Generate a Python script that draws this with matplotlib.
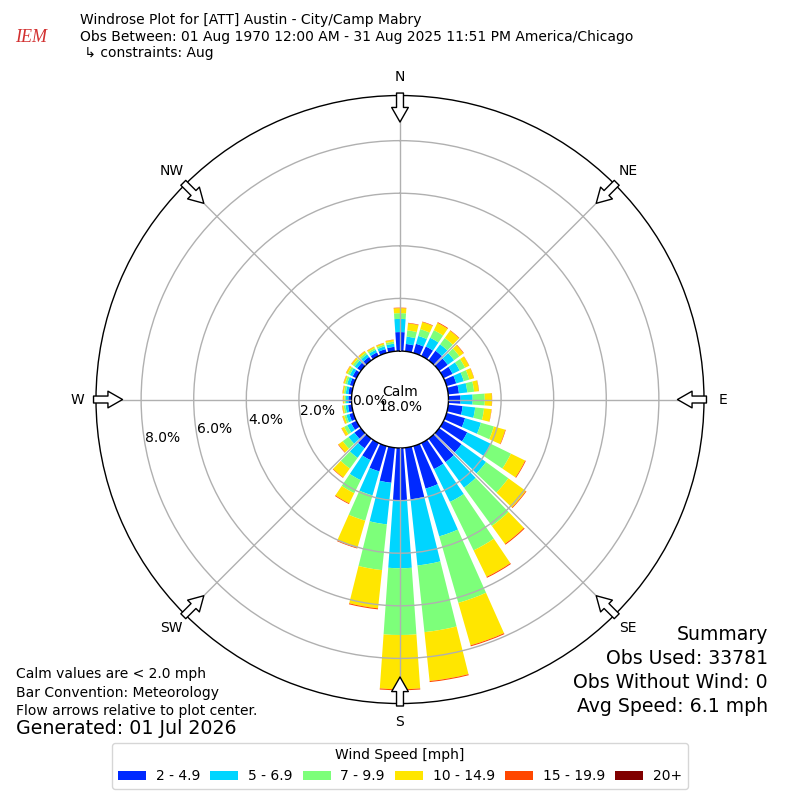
import numpy as np
import matplotlib
matplotlib.use("Agg")
import matplotlib.pyplot as plt
from matplotlib.transforms import offset_copy

# ---------------- data ----------------
directions = np.arange(0, 360, 10)  # degrees, meteorological
speed_labels = ["2 - 4.9", "5 - 6.9", "7 - 9.9", "10 - 14.9", "15 - 19.9", "20+"]

# percent frequency per direction bin for each speed class
spd_2_5 = [0.72, 0.28, 0.36, 0.40, 0.45, 0.40, 0.38, 0.38, 0.41,
           0.46, 0.55, 0.73, 1.00, 1.05, 1.10, 1.10, 1.68, 1.97,
           1.98, 1.34, 1.00, 0.72, 0.45, 0.30, 0.22, 0.16, 0.14,
           0.12, 0.13, 0.14, 0.16, 0.17, 0.16, 0.15, 0.15, 0.17]
spd_5_7 = [0.50, 0.28, 0.31, 0.37, 0.30, 0.30, 0.30, 0.30, 0.32,
           0.46, 0.48, 0.63, 0.99, 1.15, 1.20, 1.39, 1.89, 2.53,
           2.59, 1.59, 0.95, 0.85, 0.45, 0.28, 0.17, 0.12, 0.10,
           0.09, 0.10, 0.11, 0.12, 0.12, 0.12, 0.11, 0.11, 0.12]
spd_7_10 = [0.22, 0.24, 0.27, 0.32, 0.30, 0.25, 0.23, 0.22, 0.26,
            0.46, 0.34, 0.51, 0.86, 1.05, 1.80, 2.05, 2.63, 2.55,
            2.54, 1.75, 1.00, 0.55, 0.50, 0.27, 0.13, 0.08, 0.07,
            0.06, 0.07, 0.08, 0.09, 0.09, 0.08, 0.07, 0.07, 0.08]
spd_10_15 = [0.19, 0.27, 0.28, 0.31, 0.34, 0.19, 0.17, 0.18, 0.18,
             0.27, 0.28, 0.45, 0.60, 0.82, 0.84, 1.12, 1.68, 1.87,
             2.06, 1.46, 1.07, 0.43, 0.42, 0.20, 0.11, 0.07, 0.05,
             0.05, 0.05, 0.06, 0.07, 0.07, 0.07, 0.06, 0.06, 0.07]
spd_15_20 = [0.02, 0.02, 0.02, 0.03, 0.02, 0.02, 0.01, 0.01, 0.01,
             0.01, 0.01, 0.02, 0.03, 0.03, 0.04, 0.04, 0.04, 0.04,
             0.04, 0.04, 0.03, 0.03, 0.02, 0.02, 0.01, 0.01, 0.01,
             0.01, 0.01, 0.01, 0.01, 0.01, 0.01, 0.01, 0.01, 0.01]
spd_20p = [0.0] * 36

calm_pct = 18.0
ring_values = [0, 2, 4, 6, 8]
compass_labels = ["N", "NE", "E", "SE", "S", "SW", "W", "NW"]
compass_deg = [0, 45, 90, 135, 180, 225, 270, 315]

title_lines = [
    "Windrose Plot for [ATT] Austin - City/Camp Mabry",
    "Obs Between: 01 Aug 1970 12:00 AM - 31 Aug 2025 11:51 PM America/Chicago",
    " \u21b3 constraints: Aug",
]
notes = ["Calm values are < 2.0 mph", "Bar Convention: Meteorology",
         "Flow arrows relative to plot center."]
generated = "Generated: 01 Jul 2026"
summary = ["Summary", "Obs Used: 33781", "Obs Without Wind: 0",
           "Avg Speed: 6.1 mph"]

# ---------------- figure ----------------
fig = plt.figure(figsize=(8, 8), dpi=100)
ax = fig.add_axes([0.12, 0.1206, 0.76, 0.76], projection="polar")
ax.set_theta_zero_location("N")
ax.set_theta_direction(-1)
RORIG = -1.844
RMAX = 9.716
ax.set_rorigin(RORIG)
ax.set_ylim(0, RMAX)

colors = plt.cm.jet(np.linspace(0, 1, 7))[1:]
series = [spd_2_5, spd_5_7, spd_7_10, spd_10_15, spd_15_20, spd_20p]
theta = np.radians(directions)
width = np.radians(8.0)
bottom = np.zeros(len(directions))
handles = []
for vals, col, lab in zip(series, colors, speed_labels):
    vals = np.asarray(vals, dtype=float)
    b = ax.bar(theta, vals, width=width, bottom=bottom, color=col,
               edgecolor="none", linewidth=0, label=lab, zorder=1)
    handles.append(b)
    bottom = bottom + vals

# grid
ax.set_axisbelow(False)
ax.set_xticks(np.radians(compass_deg))
ax.set_xticklabels([])
ax.set_yticks(ring_values[1:])
ax.set_yticklabels([])
ax.grid(True, color="#b0b0b0", linewidth=1.0)
ax.tick_params(axis="both", length=0)
for sp in ax.spines.values():
    sp.set_color("black")
    sp.set_linewidth(1.0)

# radial labels
lab_tr = offset_copy(ax.transData, fig=fig, x=0, y=6.5, units="dots")
for rv in ring_values:
    ax.text(np.radians(260), rv, f"{rv:.1f}%", transform=lab_tr,
            ha="left", va="center", fontsize=10, zorder=5)

# calm text
ax.text(0.5, 0.5, f"Calm\n{calm_pct:.1f}%", transform=ax.transAxes,
        ha="center", va="center", fontsize=10, linespacing=1.05, zorder=5)

# compass labels and arrows
for lab, d in zip(compass_labels, compass_deg):
    t = np.radians(d)
    ax.text(t, RORIG + 323 / 26.3, lab, ha="center", va="center",
            fontsize=10, clip_on=False)
    ax.annotate("", xy=(t, RORIG + 277.5 / 26.3), xytext=(t, RORIG + 306.5 / 26.3),
                arrowprops=dict(arrowstyle="simple,head_length=1.05,head_width=1.2,tail_width=0.5",
                                fc="white", ec="black", lw=1.0, shrinkA=0, shrinkB=0,
                                mutation_scale=10),
                annotation_clip=False, zorder=6)

# header
for i, line in enumerate(title_lines):
    fig.text(0.1, 1 - (20 + 16.7 * i) / 800, line, ha="left", va="center",
             fontsize=10)
fig.text(15 / 800, 1 - 38 / 800, "IEM", color="#d23030", fontsize=13,
         fontstyle="italic", family="Liberation Serif", ha="left", va="center")

# bottom-left notes
for i, line in enumerate(notes):
    fig.text(16 / 800, 1 - (674 + 18.5 * i) / 800, line, ha="left",
             va="center", fontsize=10)
fig.text(16 / 800, 1 - 729 / 800, generated, ha="left", va="center",
         fontsize=13.7)

# summary
for i, line in enumerate(summary):
    fig.text(768 / 800, 1 - (635 + 23.7 * i) / 800, line, ha="right",
             va="center", fontsize=13.6)

fig.legend(handles, speed_labels, loc="lower center",
           bbox_to_anchor=(0.5, 11 / 800), ncol=6, title="Wind Speed [mph]",
           fontsize=10, title_fontsize=10, columnspacing=0.75,
           handletextpad=0.7, borderaxespad=0)

fig.savefig("out.png", dpi=100)
